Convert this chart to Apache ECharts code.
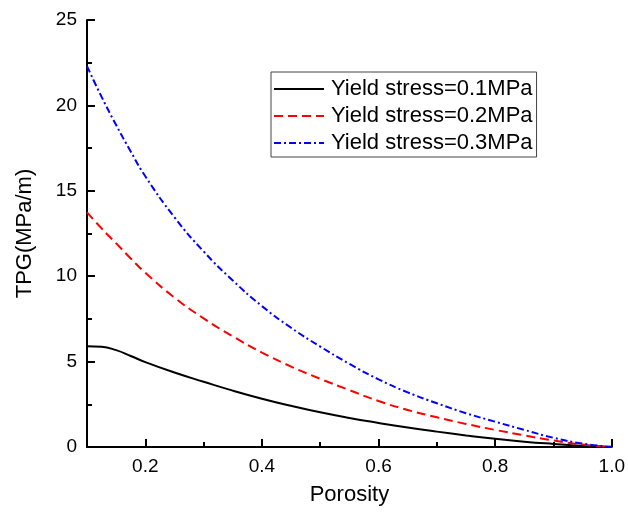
<!DOCTYPE html>
<html>
<head>
<meta charset="utf-8">
<script src="https://cdn.jsdelivr.net/npm/echarts@6/dist/echarts.min.js"></script>
<style>
html,body{margin:0;padding:0;background:#fff;}
#chart{width:628px;height:513px;}
</style>
</head>
<body>
<div id="chart"></div>
<script>
const porosity = [0.1,0.125,0.15,0.175,0.2,0.25,0.3,0.35,0.4,0.45,0.5,0.55,0.6,0.65,0.7,0.75,0.8,0.85,0.9,0.95,1.0];
const tpg01 = [5.9,5.87,5.67,5.33,4.97,4.36,3.82,3.3,2.83,2.41,2.03,1.7,1.41,1.14,0.9,0.68,0.48,0.31,0.18,0.07,0];
const tpg02 = [13.74,12.8,11.92,11.04,10.2,8.75,7.53,6.48,5.53,4.71,3.99,3.33,2.69,2.17,1.74,1.35,1.0,0.68,0.38,0.14,0];
const tpg03 = [22.3,20.5,18.85,17.3,15.85,13.45,11.45,9.75,8.25,6.98,5.88,4.87,3.96,3.2,2.56,1.98,1.48,1.0,0.54,0.2,0];
const seriesNames = ['Yield stress=0.1MPa','Yield stress=0.2MPa','Yield stress=0.3MPa'];
const xMajorTicks = [0.2,0.4,0.6,0.8,1.0];
const xMinorTicks = [0.3,0.5,0.7,0.9];
const xTitle = 'Porosity';
const yTitle = 'TPG(MPa/m)';

const font = 'Liberation Sans, Arial, sans-serif';
const pairs = arr => porosity.map((x,i)=>[x,arr[i]]);

const chart = echarts.init(document.getElementById('chart'));
chart.setOption({
  animation:false,
  backgroundColor:'#fff',
  grid:{left:87,right:11,top:20,bottom:66,containLabel:false},
  legend:{
    orient:'vertical',
    left:271, top:72,
    padding:[6,4,3,2],
    itemGap:5,
    itemWidth:50, itemHeight:14,
    borderColor:'#444', borderWidth:1,
    itemStyle:{opacity:0},
    textStyle:{fontFamily:font,fontSize:22,color:'#000',padding:[0,0,0,2]},
    data:seriesNames
  },
  xAxis:[{
    type:'value', min:0.1, max:1.0,
    name:xTitle, nameLocation:'middle', nameGap:37,
    nameTextStyle:{fontFamily:font,fontSize:22,color:'#000'},
    axisLine:{show:true,onZero:false,lineStyle:{color:'#000',width:2}},
    axisTick:{show:true,inside:true,length:8,lineStyle:{color:'#000',width:2},customValues:xMajorTicks},
    axisLabel:{show:true,fontFamily:font,fontSize:19,color:'#000',margin:10,customValues:xMajorTicks,formatter:v=>v.toFixed(1)},
    splitLine:{show:false}
  },{
    type:'value', min:0.1, max:1.0, position:'bottom',
    axisLine:{show:false},
    axisTick:{show:true,inside:true,length:5,lineStyle:{color:'#000',width:2},customValues:xMinorTicks},
    axisLabel:{show:false},
    splitLine:{show:false}
  }],
  yAxis:{
    type:'value', min:0, max:25, interval:5,
    name:yTitle, nameLocation:'middle', nameGap:51,
    nameTextStyle:{fontFamily:font,fontSize:22,color:'#000'},
    axisLine:{show:true,onZero:false,lineStyle:{color:'#000',width:2}},
    axisTick:{show:true,inside:true,length:8,lineStyle:{color:'#000',width:2}},
    minorTick:{show:true,splitNumber:2,length:5,lineStyle:{color:'#000',width:2}},
    axisLabel:{fontFamily:font,fontSize:19,color:'#000',margin:10},
    splitLine:{show:false}
  },
  series:[
    {name:seriesNames[0],type:'line',data:pairs(tpg01),smooth:0.5,symbol:'none',
     lineStyle:{color:'#000',width:2,type:'solid'},itemStyle:{color:'#000'}},
    {name:seriesNames[1],type:'line',data:pairs(tpg02),smooth:0.5,symbol:'none',
     lineStyle:{color:'#ff0000',width:2,type:[9,5]},itemStyle:{color:'#ff0000'}},
    {name:seriesNames[2],type:'line',data:pairs(tpg03),smooth:0.5,symbol:'none',
     lineStyle:{color:'#0000ff',width:2,type:[7,3,2,3]},itemStyle:{color:'#0000ff'}}
  ]
});
</script>
</body>
</html>
